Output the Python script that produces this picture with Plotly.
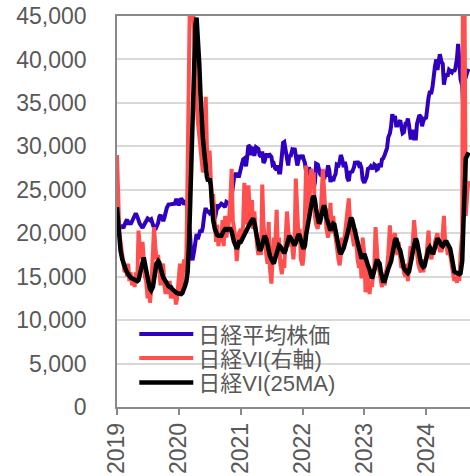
import pandas as pd
import plotly.graph_objects as go

# ---- data (4 readings per month: days 1, 8, 15, 22) ----
years = [2019, 2020, 2021, 2022, 2023, 2024]
series_names = ["日経平均株価", "日経VI(右軸)", "日経VI(25MA)"]
year_ticks = ["2019", "2020", "2021", "2022", "2023", "2024"]
y_ticks = [0, 5000, 10000, 15000, 20000, 25000, 30000, 35000, 40000, 45000]

# Nikkei 225 (yen, thousands)
nikkei_2019 = [20.2, 20.4, 20.7, 20.8,  20.8, 20.6, 21.0, 21.4,  21.6, 21.0, 21.4, 21.0,
               21.5, 21.8, 22.2, 22.3,  21.9, 21.3, 21.1, 20.9,  20.6, 20.9, 21.1, 21.3,
               21.7, 21.6, 21.5, 21.6,  20.7, 20.6, 20.4, 20.7,  21.2, 21.9, 22.1, 21.8,
               21.4, 21.8, 22.5, 22.9,  23.3, 23.3, 23.4, 23.3,  23.4, 23.4, 23.8, 23.8]
nikkei_2020 = [23.2, 23.8, 24.0, 23.8,  23.3, 23.8, 23.5, 22.4,  21.1, 19.7, 17.4, 16.9,
               18.0, 19.3, 19.9, 19.3,  20.0, 20.4, 20.1, 20.7,  22.3, 22.9, 22.5, 22.5,
               22.3, 22.5, 22.7, 22.3,  21.7, 22.3, 23.3, 23.0,  23.2, 23.4, 23.3, 23.2,
               23.0, 23.6, 23.5, 23.5,  23.3, 24.3, 25.5, 26.3,  26.8, 26.8, 26.6, 26.6]
nikkei_2021 = [27.4, 28.1, 28.5, 28.6,  27.7, 28.8, 30.1, 30.0,  29.0, 29.7, 29.9, 28.9,
               29.9, 29.8, 29.7, 29.0,  28.8, 29.4, 28.1, 28.3,  29.0, 29.0, 28.9, 29.0,
               28.8, 27.9, 28.0, 27.5,  27.3, 27.8, 27.0, 27.0,  28.5, 30.4, 30.5, 29.8,
               28.8, 27.8, 29.0, 28.8,  29.6, 29.5, 29.8, 29.0,  27.8, 28.4, 29.0, 28.6]
nikkei_2022 = [29.0, 28.5, 28.1, 27.0,  26.7, 27.6, 26.9, 26.5,  26.5, 25.2, 25.8, 28.0,
               27.9, 27.0, 26.8, 26.6,  27.0, 26.2, 26.7, 26.7,  27.8, 27.2, 25.9, 26.5,
               26.0, 26.5, 26.8, 27.9,  27.8, 28.2, 29.0, 28.6,  27.6, 28.2, 27.6, 26.4,
               26.0, 27.0, 27.1, 27.1,  27.6, 28.3, 27.9, 28.3,  27.8, 27.9, 27.5, 26.2]
nikkei_2023 = [25.8, 26.1, 26.5, 27.4,  27.5, 27.7, 27.5, 27.4,  27.9, 27.8, 27.3, 27.4,
               28.0, 27.6, 28.5, 28.6,  29.0, 29.4, 29.8, 31.0,  31.5, 32.3, 33.7, 33.0,
               33.5, 32.4, 32.4, 32.7,  33.0, 32.2, 31.5, 31.6,  32.6, 32.6, 33.2, 32.4,
               31.0, 31.0, 31.9, 30.9,  30.9, 32.6, 33.0, 33.6,  33.4, 32.3, 32.9, 33.2]
nikkei_2024 = [33.3, 35.0, 35.6, 36.2,  36.2, 36.9, 38.5, 39.2,  40.0, 38.8, 39.8, 40.6,
               39.7, 39.5, 37.1, 37.9,  38.2, 38.2, 38.8, 38.6,  38.5, 38.8, 38.6, 39.0,
               40.1, 41.8, 40.2, 37.7,  37.0, 34.0, 37.5, 38.2,  38.6, 38.9]

# Nikkei VI (index points)
vi_2019 = [29.0, 23.0, 20.0, 19.0,  17.5, 16.0, 15.5, 16.5,  15.0, 16.5, 14.5, 15.5,
           14.0, 15.0, 13.8, 15.5,  14.5, 20.3, 18.0, 17.0,  19.0, 16.0, 15.0, 14.5,
           12.5, 14.0, 12.0, 13.5,  17.0, 20.7, 18.5, 17.0,  17.5, 15.0, 14.0, 15.5,
           16.5, 14.0, 13.0, 14.5,  13.0, 14.5, 12.5, 13.5,  12.5, 13.5, 11.8, 12.5]
vi_2020 = [14.5, 16.5, 13.0, 15.0,  17.0, 15.5, 17.5, 27.0,  35.0, 50.0, 60.0, 48.0,
           42.0, 37.0, 35.0, 33.0,  31.0, 30.0, 29.0, 27.0,  28.0, 35.7, 30.0, 27.5,
           29.5, 25.0, 23.0, 24.5,  20.5, 19.0, 21.0, 18.5,  20.0, 19.0, 21.5, 18.5,
           22.0, 19.5, 20.5, 21.0,  24.0, 27.4, 21.5, 20.5,  19.5, 16.8, 18.5, 20.0]
vi_2021 = [20.5, 19.5, 21.0, 25.8,  21.0, 22.5, 25.5, 23.0,  21.0, 23.8, 20.5, 22.5,
           19.5, 18.5, 17.5, 19.0,  17.5, 25.6, 21.0, 19.0,  17.5, 16.5, 21.3, 16.0,
           14.2, 17.0, 19.5, 17.5,  22.7, 18.0, 19.5, 16.5,  15.3, 17.0, 16.0, 19.0,
           22.5, 20.5, 18.5, 19.5,  18.5, 17.0, 19.0, 26.3,  23.0, 19.5, 20.5, 17.0]
vi_2022 = [16.3, 17.5, 22.0, 27.8,  24.0, 22.0, 25.5, 27.4,  26.5, 27.0, 22.0, 21.0,
           20.5, 22.5, 21.0, 23.5,  27.4, 25.0, 22.0, 20.5,  19.5, 22.5, 23.5, 20.0,
           22.0, 20.5, 19.0, 18.5,  17.0, 16.3, 17.5, 19.5,  18.5, 20.0, 21.5, 22.5,
           24.0, 21.5, 20.5, 19.5,  18.5, 20.5, 17.5, 17.0,  16.0, 17.5, 14.8, 19.5]
vi_2023 = [17.5, 13.2, 16.0, 14.5,  13.0, 14.5, 13.8, 15.5,  16.0, 20.7, 18.5, 16.5,
           15.5, 14.5, 13.8, 15.0,  14.0, 15.5, 16.0, 17.5,  20.9, 17.5, 18.0, 19.5,
           20.0, 18.5, 17.5, 19.0,  17.5, 16.0, 17.0, 15.5,  15.0, 16.5, 14.5, 16.0,
           18.5, 17.0, 19.5, 21.5,  19.0, 17.5, 16.5, 16.0,  15.5, 17.0, 15.5, 16.5]
vi_2024 = [17.0, 18.5, 20.3, 18.0,  17.0, 18.0, 17.5, 19.0,  19.5, 20.0, 18.5, 18.0,
           18.0, 19.5, 22.0, 19.0,  18.5, 17.5, 18.5, 17.5,  16.0, 15.5, 14.5, 15.0,
           14.3, 15.5, 14.5, 17.5,  20.0, 70.0, 30.0, 22.0,  25.0, 26.0]

# Nikkei VI 25-day moving average (index points)
ma_2019 = [23.0, 21.0, 19.0, 18.0,  17.0, 16.5, 16.2, 15.8,  15.5, 15.2, 15.0, 14.9,
           14.8, 14.7, 14.6, 14.5,  14.5, 14.6, 15.2, 16.0,  16.8, 17.2, 16.5, 15.6,
           14.8, 14.2, 13.6, 13.4,  13.8, 14.8, 15.8, 16.5,  16.8, 16.6, 16.0, 15.3,
           14.9, 14.7, 14.4, 14.1,  13.9, 13.8, 13.8, 13.6,  13.5, 13.3, 13.2, 13.1]
ma_2020 = [13.0, 13.0, 13.0, 13.1,  13.5, 14.0, 14.5, 15.5,  18.5, 23.0, 30.0, 36.0,
           41.0, 44.0, 44.8, 43.0,  39.5, 36.0, 33.0, 31.0,  29.0, 27.5, 26.5, 26.0,
           26.3, 25.5, 23.0, 21.5,  20.5, 19.9, 19.8, 19.7,  19.7, 19.7, 20.0, 20.3,
           20.5, 20.5, 20.4, 20.5,  20.5, 20.2, 19.5, 19.0,  18.6, 18.2, 18.5, 19.0]
ma_2021 = [19.0, 19.3, 19.5, 19.8,  20.2, 20.5, 20.7, 21.0,  21.3, 21.5, 21.7, 21.2,
           20.3, 19.5, 18.6, 18.0,  18.2, 18.8, 19.3, 19.7,  19.3, 18.6, 17.9, 17.4,
           17.0, 16.6, 16.5, 17.0,  17.6, 18.2, 18.6, 18.5,  18.2, 17.9, 17.7, 18.0,
           18.6, 19.3, 19.7, 19.5,  19.0, 18.7, 18.6, 18.9,  19.5, 19.9, 19.7, 19.0]
ma_2022 = [18.5, 18.2, 18.6, 19.8,  21.0, 21.8, 22.5, 23.4,  24.0, 24.3, 23.8, 22.8,
           21.8, 21.1, 21.4, 22.2,  22.8, 23.2, 22.8, 21.8,  21.0, 20.4, 20.3, 20.7,
           21.1, 21.0, 20.2, 19.3,  18.4, 17.9, 17.6, 17.8,  18.3, 18.8, 19.2, 19.8,
           20.6, 21.3, 21.8, 21.5,  20.7, 19.9, 19.2, 18.8,  18.0, 17.3, 17.1, 17.3]
ma_2023 = [17.6, 17.2, 16.6, 16.3,  15.8, 15.1, 14.8, 15.2,  15.8, 16.5, 16.8, 16.8,
           16.5, 15.6, 14.9, 14.5,  14.5, 14.8, 15.4, 15.9,  16.4, 16.8, 17.5, 18.4,
           19.2, 19.4, 18.8, 18.4,  18.0, 17.3, 16.5, 16.0,  15.7, 15.5, 15.4, 15.6,
           16.3, 17.2, 18.0, 18.8,  19.4, 19.0, 18.0, 17.2,  16.6, 16.3, 16.1, 16.2]
ma_2024 = [16.8, 17.6, 18.2, 18.4,  18.0, 17.6, 17.9, 18.4,  18.9, 19.4, 19.2, 18.8,
           18.6, 18.5, 18.8, 19.0,  19.0, 18.8, 18.6, 18.2,  17.2, 16.2, 15.6, 15.5,
           15.4, 15.3, 15.3, 15.4,  16.8, 21.0, 26.0, 28.6,  29.0, 29.3]

nikkei_by_year = [nikkei_2019, nikkei_2020, nikkei_2021, nikkei_2022, nikkei_2023, nikkei_2024]
vi_by_year = [vi_2019, vi_2020, vi_2021, vi_2022, vi_2023, vi_2024]
ma_by_year = [ma_2019, ma_2020, ma_2021, ma_2022, ma_2023, ma_2024]


def build(by_year, scale):
    xs, ys = [], []
    for yr, vals in zip(years, by_year):
        for i, v in enumerate(vals):
            xs.append(pd.Timestamp(yr, 1 + i // 4, 1 + 7 * (i % 4)))
            ys.append(v * scale)
    return xs, ys


nk_x, nk_y = build(nikkei_by_year, 1000)
vi_x, vi_y = build(vi_by_year, 1)
ma_x, ma_y = build(ma_by_year, 1)

FONT = "Liberation Sans, Arial, Noto Sans CJK JP, sans-serif"
GRAY = "#595959"

fig = go.Figure()
fig.add_trace(go.Scatter(x=nk_x, y=nk_y, name=series_names[0], mode="lines",
                         legend="legend",
                         line=dict(color="#3000C0", width=4)))
fig.add_trace(go.Scatter(x=vi_x, y=vi_y, name=series_names[1], mode="lines", yaxis="y2",
                         legend="legend2",
                         line=dict(color="#FF5050", width=4)))
fig.add_trace(go.Scatter(x=ma_x, y=ma_y, name=series_names[2], mode="lines", yaxis="y2",
                         legend="legend3",
                         line=dict(color="#000000", width=4.5)))


def legend_box(yc):
    return dict(x=0.049, y=yc, xanchor="left", yanchor="middle",
                bgcolor="rgba(0,0,0,0)", font=dict(size=22, color=GRAY, family=FONT),
                itemwidth=54, borderwidth=0)


fig.update_layout(
    width=470, height=476,
    margin=dict(l=117, r=0, t=16, b=69, autoexpand=False),
    paper_bgcolor="white", plot_bgcolor="white",
    font=dict(family=FONT, color=GRAY, size=23),
    showlegend=True,
    legend=legend_box(0.186),
    legend2=legend_box(0.1245),
    legend3=legend_box(0.062),
    xaxis=dict(
        type="date", automargin=False,
        range=[pd.Timestamp(2019, 1, 1), pd.Timestamp(2024, 9, 16)],
        tickvals=[pd.Timestamp(int(t), 1, 1) for t in year_ticks],
        ticktext=year_ticks,
        tickangle=-90,
        ticks="outside", ticklen=6, tickcolor="#898989", tickwidth=1.5,
        ticklabelstandoff=-1, ticklabeloverflow="allow",
        showline=True, linecolor="#898989", linewidth=1.5, mirror=True,
        showgrid=False, zeroline=False,
        tickfont=dict(size=23, color=GRAY),
    ),
    yaxis=dict(
        automargin=False,
        range=[0, 45000],
        tickvals=y_ticks,
        tickformat=",",
        showline=True, linecolor="#898989", linewidth=1.5,
        showgrid=True, gridcolor="#D9D9D9", gridwidth=1.5,
        zeroline=False, ticks="", ticklabelstandoff=24,
        ticklabeloverflow="allow",
        tickfont=dict(size=23, color=GRAY),
    ),
    yaxis2=dict(range=[0, 45], overlaying="y", side="right", visible=False,
                automargin=False),
)

# remove the default 8px page margin so the 470x476 figure fills the window exactly
fig.write_html(
    "out.html",
    config={"displayModeBar": False},
    post_script="document.body.style.margin='0';document.body.style.overflow='hidden';",
)
